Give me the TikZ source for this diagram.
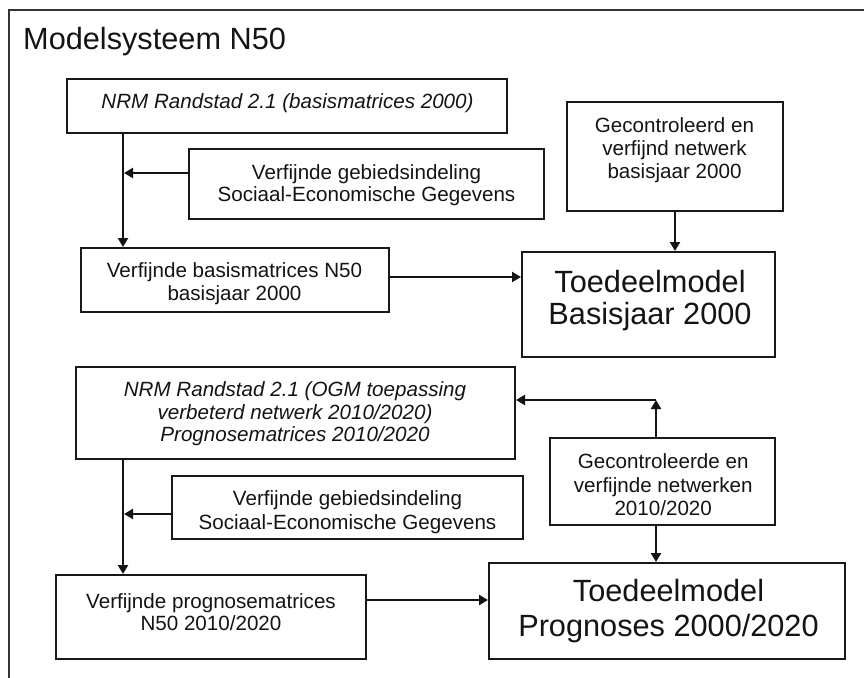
\documentclass[tikz,border=0pt]{standalone}
\usepackage{fontspec}
\setmainfont{Liberation Sans}
\usetikzlibrary{arrows.meta}
\begin{document}
\begin{tikzpicture}[x=1pt,y=-1pt,
  boxnode/.style={draw=black!90, line width=2pt, inner sep=0pt},
  txt/.style={text=black!92, align=center, inner sep=0pt},
  arr/.style={draw=black!92, line width=2.4pt, -{Triangle[length=9pt,width=10pt]}},
  frameline/.style={draw=black!80, line width=1.8pt}]
\useasboundingbox (0,0) rectangle (864,677);
\clip (0,0) rectangle (864,677);
\fill[white] (0,0) rectangle (864,677);
% outer frame (cut off at right and bottom)
\draw[frameline] (9.3,700) -- (9.3,10) -- (890,10);
% title
\node[txt, anchor=base west, font=\fontsize{30.7}{34}\selectfont] (title) at (23,50) {Modelsysteem N50};

% ---------- boxes, upper part
\node[boxnode, minimum width=440pt, minimum height=54pt]  (nrm1) at (287,106) {};
\node[boxnode, minimum width=355pt, minimum height=70pt]  (geb1) at (366.5,184) {};
\node[boxnode, minimum width=308pt, minimum height=64pt]  (bas)  at (235,280) {};
\node[boxnode, minimum width=216pt, minimum height=109pt] (gec1) at (675,156.5) {};
\node[boxnode, minimum width=253pt, minimum height=105pt] (toe1) at (648.5,304.5) {};
% ---------- boxes, lower part
\node[boxnode, minimum width=439pt, minimum height=92pt]  (nrm2) at (295.5,413) {};
\node[boxnode, minimum width=351pt, minimum height=63pt]  (geb2) at (347.5,507.5) {};
\node[boxnode, minimum width=225pt, minimum height=87pt]  (gec2) at (662.5,481.5) {};
\node[boxnode, minimum width=310pt, minimum height=84pt]  (pro)  at (211,617) {};
\node[boxnode, minimum width=356pt, minimum height=96pt]  (toe2) at (667,611) {};

% ---------- texts
\node[txt, anchor=base, font=\fontsize{20.6}{23}\selectfont\itshape] (nrm1t) at (287.5,108)
  {NRM Randstad 2.1 (basismatrices 2000)};
\node[txt, font=\fontsize{20.6}{22}\selectfont] (geb1t) at (366.5,185.3)
  {Verfijnde gebiedsindeling\\Sociaal-Economische Gegevens};
\node[txt, font=\fontsize{20.6}{23.3}\selectfont] (bast) at (234.5,283.9)
  {Verfijnde basismatrices N50\\basisjaar 2000};
\node[txt, font=\fontsize{20.6}{23}\selectfont] (gec1t) at (674.5,150.5)
  {Gecontroleerd en\\verfijnd netwerk\\basisjaar 2000};
\node[txt, font=\fontsize{30.7}{32}\selectfont] (toe1t) at (650,300.9)
  {Toedeelmodel\\Basisjaar 2000};
\node[txt, font=\fontsize{20.6}{22.5}\selectfont\itshape] (nrm2t) at (295,413.7)
  {NRM Randstad 2.1 (OGM toepassing\\verbeterd netwerk 2010/2020)\\Prognosematrices 2010/2020};
\node[txt, font=\fontsize{20.6}{23.6}\selectfont] (geb2t) at (347.5,512)
  {Verfijnde gebiedsindeling\\Sociaal-Economische Gegevens};
\node[txt, font=\fontsize{20.6}{21.7}\selectfont] (prot) at (211,612)
  {Verfijnde prognosematrices\\N50 2010/2020};
\node[txt, font=\fontsize{20.6}{23.6}\selectfont] (gec2t) at (663.2,484.8)
  {Gecontroleerde en\\verfijnde netwerken\\2010/2020};
\node[txt, font=\fontsize{30.7}{35}\selectfont] (toe2t) at (668.5,611.1)
  {Toedeelmodel\\Prognoses 2000/2020};

% ---------- connectors, upper part
\coordinate (a1) at ([xshift=57pt]nrm1.south west);
\draw[arr] (a1) -- (a1 |- bas.north);
\coordinate (g1w) at ([yshift=11pt]geb1.west);
\draw[arr] (g1w) -- ([xshift=1pt]a1 |- g1w);
\coordinate (b1e) at ([yshift=3pt]bas.east);
\draw[arr] (b1e) -- (b1e -| toe1.west);
\draw[arr] (gec1.south) -- (gec1.south |- toe1.north);

% ---------- connectors, lower part
\coordinate (a2) at ([xshift=48pt]nrm2.south west);
\draw[arr] (a2) -- (a2 |- pro.north);
\coordinate (g2w) at ([yshift=-6.5pt]geb2.west);
\draw[arr] (g2w) -- ([xshift=1pt]a2 |- g2w);
\coordinate (p1e) at ([yshift=17pt]pro.east);
\draw[arr] (p1e) -- (p1e -| toe2.west);
\coordinate (g2b) at ([xshift=-6.5pt]gec2.south);
\draw[arr] (g2b) -- (g2b |- toe2.north);
\coordinate (g2t) at ([xshift=-6.5pt]gec2.north);
\coordinate (c2) at ([yshift=37pt]g2t);
\draw[arr] (g2t) -- (c2);
\draw[arr] (c2) -- (c2 -| nrm2.east);
\end{tikzpicture}
\end{document}
